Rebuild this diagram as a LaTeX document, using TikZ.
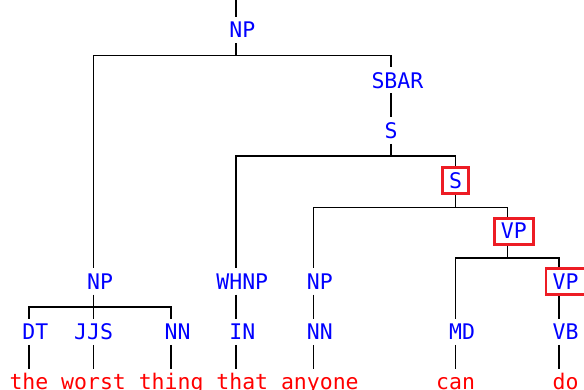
\documentclass[tikz,border=0pt]{standalone}
\usepackage{fontspec}
\setmonofont{DejaVu Sans Mono}
\usepackage{tikz}
\usetikzlibrary{calc}

\definecolor{tagblue}{RGB}{0,0,255}
\definecolor{wordred}{RGB}{255,0,0}
\definecolor{hlred}{RGB}{237,28,36}

\begin{document}
\begin{tikzpicture}
  [
    x=12.93pt, y=-50.3pt,
    tag/.style =
      {font=\ttfamily\fontsize{21.5}{26}\selectfont, text=tagblue,
       inner xsep=6.5pt, inner ysep=0pt, text height=20.8pt, text depth=5.2pt},
    hl/.style =
      {tag, draw=hlred, line width=2.8pt},
    word/.style =
      {tag, text=wordred},
    branch/.style =
      {draw=black, line width=1.6pt}
  ]

\useasboundingbox (-1.237,-0.596) rectangle (43.929,7.157);
\clip (-1.237,-0.596) rectangle (43.929,7.157);

% phrase labels
\coordinate (t) at (17,-1);
\node[tag] (np0)  at (17.5,0) {NP};
\node[tag] (sbar) at (29.5,1) {SBAR};
\node[tag] (s1)   at (29,2)   {S};
\node[hl]  (s2)   at (34,3)   {S};
\node[hl]  (vp1)  at (38.5,4) {VP};
\node[tag] (np1)  at (6.5,5)  {NP};
\node[tag] (whnp) at (17.5,5) {WHNP};
\node[tag] (np2)  at (23.5,5) {NP};
\node[hl]  (vp2)  at (42.5,5) {VP};

% part of speech
\node[tag] (dt)   at (1.5,6)  {DT};
\node[tag] (jjs)  at (6,6)    {JJS};
\node[tag] (nn1)  at (12.5,6) {NN};
\node[tag] (prep) at (17.5,6) {IN};
\node[tag] (nn2)  at (23.5,6) {NN};
\node[tag] (md)   at (34.5,6) {MD};
\node[tag] (vb)   at (42.5,6) {VB};

% words
\node[word] (the)    at (1,7)    {the};
\node[word] (worst)  at (6,7)    {worst};
\node[word] (thing)  at (12,7)   {thing};
\node[word] (that)   at (17.5,7) {that};
\node[word] (anyone) at (23.5,7) {anyone};
\node[word] (can)    at (34,7)   {can};
\node[word] (do)     at (42.5,7) {do};

% branches
\draw [branch] (t) -- ($(np0.north)-(.5,0)$);

\draw [branch] ($(np0.south)-(.5,0)$) -- ++(0,.242) coordinate (np0b);
\draw [branch] (np0b) -| ($(np1.north)-(.5,0)$);
\draw [branch] (np0b) -| ($(sbar.north)-(.5,0)$);

\draw [branch] ($(sbar.south)-(.5,0)$) -- (s1.north);

\draw [branch] (s1.south) -- ++(0,.242) coordinate (s1b);
\draw [branch] (s1b) -| ($(whnp.north)-(.5,0)$);
\draw [branch] (s1b) -| (s2.north);

\draw [branch] (s2.south) -- ++(0,.242) coordinate (s2b);
\draw [branch] (s2b) -| ($(np2.north)-(.5,0)$);
\draw [branch] (s2b) -| ($(vp1.north)-(.5,0)$);

\draw [branch] ($(vp1.south)-(.5,0)$) -- ++(0,.242) coordinate (vp1b);
\draw [branch] (vp1b) -| ($(md.north)-(.5,0)$);
\draw [branch] (vp1b) -| ($(vp2.north)-(.5,0)$);

\draw [branch] ($(np1.south)-(.5,0)$) -- ++(0,.242) coordinate (np1b);
\draw [branch] (np1b) -| ($(dt.north)-(.5,0)$);
\draw [branch] (np1b) -| (jjs.north);
\draw [branch] (np1b) -| ($(nn1.north)-(.5,0)$);

\draw [branch] ($(whnp.south)-(.5,0)$) -- ($(prep.north)-(.5,0)$);
\draw [branch] ($(np2.south)-(.5,0)$) -- ($(nn2.north)-(.5,0)$);
\draw [branch] ($(vp2.south)-(.5,0)$) -- ($(vb.north)-(.5,0)$);

\draw [branch] ($(dt.south)-(.5,0)$) -- (the.north);
\draw [branch] (jjs.south) -- (worst.north);
\draw [branch] ($(nn1.south)-(.5,0)$) -- (thing.north);
\draw [branch] ($(prep.south)-(.5,0)$) -- ($(that.north)-(.5,0)$);
\draw [branch] ($(nn2.south)-(.5,0)$) -- ($(anyone.north)-(.5,0)$);
\draw [branch] ($(md.south)-(.5,0)$) -- (can.north);
\draw [branch] ($(vb.south)-(.5,0)$) -- ($(do.north)-(.5,0)$);

\end{tikzpicture}
\end{document}
